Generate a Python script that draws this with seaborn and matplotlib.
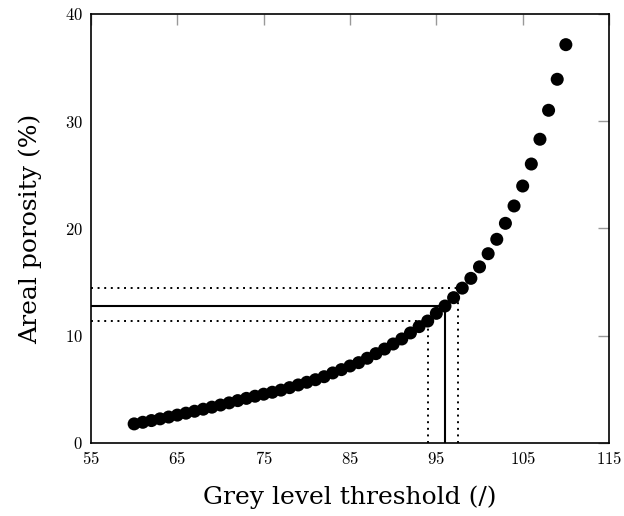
import matplotlib
matplotlib.use("Agg")
import matplotlib.pyplot as plt
import seaborn as sns
import pandas as pd

# ---- data ----
threshold = list(range(60, 111))
porosity = [1.78, 1.93, 2.09, 2.25, 2.42, 2.60, 2.78, 2.96, 3.15, 3.34,
            3.54, 3.74, 3.95, 4.16, 4.36, 4.55, 4.73, 4.93, 5.16, 5.41,
            5.66, 5.90, 6.18, 6.53, 6.84, 7.18, 7.49, 7.90, 8.33, 8.76,
            9.23, 9.70, 10.26, 10.85, 11.37, 12.09, 12.77, 13.55, 14.44, 15.35,
            16.42, 17.65, 18.99, 20.48, 22.10, 23.96, 26.01, 28.32, 31.02, 33.91,
            37.14]

# selected threshold (solid) and its bounds (dotted)
sel_x = [96.0]
sel_y = [12.75]
bound_x = [94.0, 97.5]
bound_y = [11.42, 14.48]

x_ticks = [55, 65, 75, 85, 95, 105, 115]
y_ticks = [0, 10, 20, 30, 40]
x_label = "Grey level threshold (/)"
y_label = "Areal porosity (%)"

df = pd.DataFrame({"threshold": threshold, "porosity": porosity})

sns.set_theme(style="white")
plt.rcParams["font.family"] = ["DejaVu Serif", "Liberation Serif"]
plt.rcParams["mathtext.fontset"] = "cm"
plt.rcParams["text.color"] = "black"
plt.rcParams["axes.labelcolor"] = "black"

fig = plt.figure(figsize=(6.24, 5.16), dpi=100)
ax = fig.add_axes([0.1458, 0.1415, 0.976 - 0.1458, 0.9729 - 0.1415])

xmin, xmax = x_ticks[0], x_ticks[-1]
ymin, ymax = y_ticks[0], y_ticks[-1]

# reference lines
dot = (0, (1, 2.4))
for bx, by in zip(bound_x, bound_y):
    ax.plot([xmin, bx], [by, by], color="black", lw=1.4, ls=dot, zorder=2)
    ax.plot([bx, bx], [ymin, by], color="black", lw=1.4, ls=dot, zorder=2)
for sx, sy in zip(sel_x, sel_y):
    ax.plot([xmin, sx], [sy, sy], color="black", lw=1.5, zorder=2)
    ax.plot([sx, sx], [ymin, sy], color="black", lw=1.5, zorder=2)

sns.scatterplot(data=df, x="threshold", y="porosity", ax=ax, color="black",
                s=88, edgecolor="none", zorder=3, legend=False)

ax.set_xlim(xmin, xmax)
ax.set_ylim(ymin, ymax)
ax.set_xticks(x_ticks)
ax.set_yticks(y_ticks)
ax.set_xticklabels([f"${t}$" for t in x_ticks])
ax.set_yticklabels([f"${t}$" for t in y_ticks])
ax.tick_params(axis="both", which="major", direction="in", length=8, width=1,
               color="#999999", labelcolor="black", top=True, right=True,
               labelsize=12, pad=6)

for sp in ax.spines.values():
    sp.set_color("black")
    sp.set_linewidth(1.2)
    sp.set_visible(True)

ax.set_xlabel(x_label, fontsize=18, labelpad=12, color="black")
ax.set_ylabel(y_label, fontsize=18, labelpad=16, color="black")

fig.savefig("out.png", dpi=100)
